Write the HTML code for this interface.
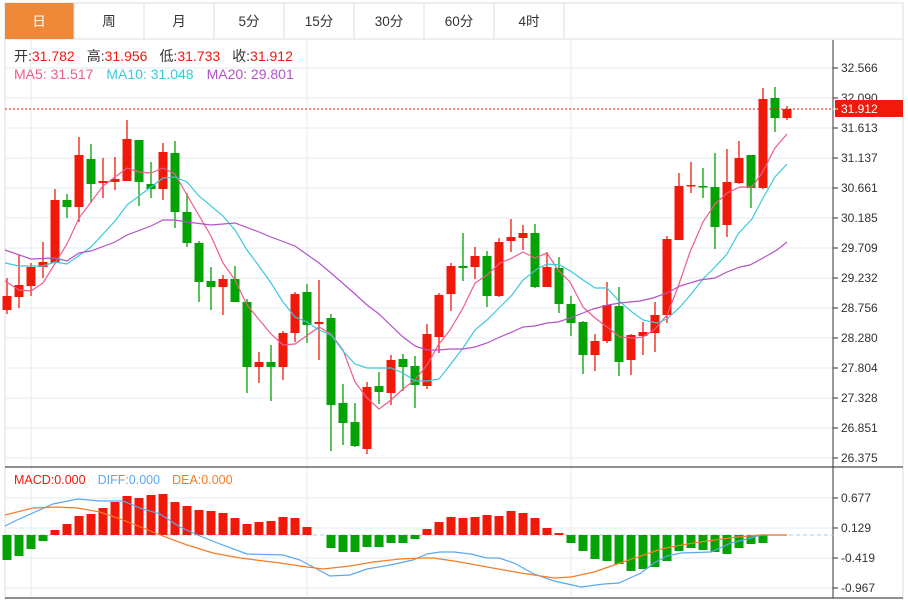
<!DOCTYPE html>
<html><head><meta charset="utf-8">
<style>
html,body{margin:0;padding:0;background:#fff;width:908px;height:600px;overflow:hidden}
body{font-family:"Liberation Sans","Noto Sans CJK SC",sans-serif}
svg{position:absolute;left:0;top:0}
</style></head>
<body>
<svg id="s" width="908" height="600" xmlns="http://www.w3.org/2000/svg" font-family="Liberation Sans, Noto Sans CJK SC, sans-serif">
<rect x="5" y="3" width="898" height="36" fill="#fff" stroke="#dcdcdc"/>
<rect x="5" y="3" width="69" height="36" fill="#f0883a"/>
<g stroke="#dcdcdc"><line x1="74" y1="3" x2="74" y2="39"/><line x1="144" y1="3" x2="144" y2="39"/><line x1="214" y1="3" x2="214" y2="39"/><line x1="284" y1="3" x2="284" y2="39"/><line x1="354" y1="3" x2="354" y2="39"/><line x1="424" y1="3" x2="424" y2="39"/><line x1="494" y1="3" x2="494" y2="39"/><line x1="564" y1="3" x2="564" y2="39"/></g>
<g font-size="13.5" text-anchor="middle" fill="#333"><text x="39" y="26" fill="#fff">日</text><text x="109" y="26">周</text><text x="179" y="26">月</text><text x="249" y="26">5分</text><text x="319" y="26">15分</text><text x="389" y="26">30分</text><text x="459" y="26">60分</text><text x="529" y="26">4时</text></g>
<line x1="5" y1="39" x2="5" y2="600" stroke="#dcdcdc"/>
<line x1="903" y1="39" x2="903" y2="600" stroke="#dcdcdc"/>
<g id="grid" stroke="#e3ebf1" stroke-width="1"></g>
<line x1="5" y1="467" x2="903" y2="467" stroke="#222"/>
<line x1="5" y1="598" x2="903" y2="598" stroke="#222"/>
<line x1="833" y1="40" x2="833" y2="598" stroke="#333"/>
<g id="ax" font-size="12" fill="#333"></g>
<g id="c"></g>
<g id="m"></g>
<line x1="5" y1="109" x2="833" y2="109" stroke="#f0190a" stroke-dasharray="2,2"/>
<rect x="835" y="100" width="68" height="17" fill="#f0190a"/>
<line x1="833" y1="109" x2="838" y2="109" stroke="#fff"/>
<text x="841" y="113" font-size="12" fill="#fff">31.912</text>
<g font-size="14">
<text x="14" y="61"><tspan fill="#333">开:</tspan><tspan fill="#f0190a">31.782</tspan><tspan fill="#333" dx="12">高:</tspan><tspan fill="#f0190a">31.956</tspan><tspan fill="#333" dx="12">低:</tspan><tspan fill="#f0190a">31.733</tspan><tspan fill="#333" dx="12">收:</tspan><tspan fill="#f0190a">31.912</tspan></text>
<text x="14" y="79"><tspan fill="#ef5b8a">MA5: 31.517</tspan><tspan fill="#3cc8dc" dx="13">MA10: 31.048</tspan><tspan fill="#b452c8" dx="13">MA20: 29.801</tspan></text>
</g>
<text x="14" y="484" font-size="12.5"><tspan fill="#f0190a">MACD:0.000</tspan><tspan fill="#5aa8f0" dx="12">DIFF:0.000</tspan><tspan fill="#f57d28" dx="12">DEA:0.000</tspan></text>
</svg>
<script>
var NS="http://www.w3.org/2000/svg";
function el(p,t,a){var e=document.createElementNS(NS,t);for(var k in a)e.setAttribute(k,a[k]);p.appendChild(e);return e;}
var g=document.getElementById('grid'),ax=document.getElementById('ax');
var labs=["32.566","32.090","31.613","31.137","30.661","30.185","29.709","29.232","28.756","28.280","27.804","27.328","26.851","26.375"];
labs.forEach(function(l,i){var y=68+30*i;el(g,'line',{x1:5,y1:y,x2:833,y2:y});el(ax,'line',{x1:833,y1:y,x2:838,y2:y,stroke:'#333'});var t=el(ax,'text',{x:841,y:y+4});t.textContent=l;});
[31,307,571].forEach(function(x){el(g,'line',{x1:x,y1:40,x2:x,y2:598});});
var ml=["0.677","0.129","-0.419","-0.967"];
ml.forEach(function(l,i){var y=498+30*i;el(g,'line',{x1:5,y1:y,x2:833,y2:y});el(ax,'line',{x1:833,y1:y,x2:838,y2:y,stroke:'#333'});var t=el(ax,'text',{x:841,y:y+4});t.textContent=l;});
var C=[[296,310,278,314,'r'],[285,297,255,308,'r'],[267,286,263,296,'r'],[262,267,242,278,'r'],[200,263,189,264,'r'],[200,207,194,218,'g'],[155,207,137,222,'r'],[159,184,144,203,'g'],[181,183,158,198,'r'],[179,182,157,190,'r'],[139,181,120,181,'r'],[140,182,140,206,'g'],[184,189,162,198,'g'],[152,189,143,200,'r'],[153,212,141,228,'g'],[212,243,193,247,'g'],[243,282,241,302,'g'],[281,287,267,310,'g'],[279,287,275,315,'r'],[279,302,266,302,'g'],[302,367,299,393,'g'],[362,367,352,383,'r'],[362,367,345,401,'g'],[333,367,331,380,'r'],[294,333,292,342,'r'],[292,325,284,343,'g'],[322,324,280,360,'r'],[318,405,314,451,'g'],[403,423,384,445,'g'],[422,446,403,447,'g'],[387,449,382,454,'r'],[386,392,372,404,'g'],[360,393,355,405,'r'],[359,367,354,391,'g'],[366,385,356,408,'g'],[334,386,324,389,'r'],[295,337,293,353,'r'],[266,294,263,311,'r'],[266,268,233,281,'g'],[256,267,247,279,'r'],[256,296,251,307,'g'],[242,296,238,297,'r'],[237,241,219,252,'r'],[233,238,225,250,'r'],[233,287,224,288,'g'],[267,287,252,287,'r'],[268,304,257,313,'g'],[304,323,296,336,'g'],[322,355,321,374,'g'],[341,355,334,371,'r'],[305,341,282,343,'r'],[306,362,287,376,'g'],[335,360,334,375,'r'],[332,336,322,355,'r'],[315,333,302,352,'r'],[239,315,236,323,'r'],[186,240,173,240,'r'],[185,186,162,193,'r'],[186,187,168,198,'g'],[187,227,153,249,'g'],[182,225,149,237,'r'],[158,183,141,184,'r'],[155,188,155,208,'g'],[99,188,88,189,'r'],[98,118,87,132,'g'],[109,118,106,120,'r']];
var cg=document.getElementById('c');
C.forEach(function(d,i){var x=7+12*i;var col=d[4]=='r'?'#f0190a':'#04a204';
el(cg,'line',{x1:x,y1:d[2],x2:x,y2:d[3],stroke:col,'stroke-width':1.3});
el(cg,'rect',{x:x-4.5,y:d[0],width:9,height:Math.max(1.5,d[1]-d[0]),fill:col});});
var M=[560,556,549,541,530,524,516,514,508,502,496,498,495,494,502,506,510,511,513,518,524,522,521,517,518,527,535,548,552,552,547,547,543,543,539,529,522,517,518,517,515,516,511,513,518,528,533,543,551,559,561,564,571,569,567,561,551,548,550,552,554,548,544,543,535,535];
el(cg,'line',{x1:5,y1:535,x2:833,y2:535,stroke:'#a9d3ee','stroke-dasharray':'4,3'});
M.forEach(function(v,i){var x=7+12*i;if(Math.abs(v-535)<1)return;var col=v<535?'#f0190a':'#04a204';
el(cg,'rect',{x:x-4.5,y:Math.min(v,535),width:9,height:Math.abs(v-535),fill:col});});
function pl(pts,col){el(document.getElementById('m'),'polyline',{points:pts,fill:'none',stroke:col,'stroke-width':1.2});}
pl("5,281 19,290 31,291 43,283 67,244 79,218 103,186 127,168 139,172 151,173 163,168 175,174 187,195 211,236 223,263 235,280 247,305 271,334 283,345 295,344 319,327 331,334 343,350 355,382 367,398 379,409 391,400 403,389 415,380 427,365 439,344 450,330 463,308 475,283 487,275 500,263 512,258 523,252 535,258 547,253 558,270 570,282 583,307 595,318 607,327 620,337 632,338 643,337 655,329 667,315 678,287 690,252 703,222 715,204 727,193 740,187 752,187 762,173 775,148 787,134","#ef5b8a");
pl("5,263 19,266 43,266 55,262 67,264 91,247 115,221 127,205 139,196 163,178 175,177 187,182 199,196 223,216 235,230 247,250 259,266 271,283 283,302 295,317 307,322 319,330 331,335 343,351 355,364 367,368 379,368 391,368 403,373 415,381 427,381 439,379 450,365 463,348 475,330 487,320 500,307 512,295 523,280 537,269 547,264 560,265 572,272 583,280 595,288 607,288 618,300 632,312 643,320 657,323 667,319 680,307 692,293 703,279 715,267 727,254 738,234 752,219 763,198 775,177 787,164","#3cc8dc");
pl("5,250 31,259 55,258 67,261 79,253 91,251 115,242 127,235 151,226 163,220 175,220 187,222 211,225 235,223 259,232 271,237 295,246 319,263 331,273 355,294 367,305 379,314 403,337 415,346 427,350 439,350 450,349 463,349 475,347 487,343 500,337 512,332 523,327 535,326 547,323 558,322 570,318 583,313 593,309 608,305 620,303 640,301 653,298 667,293 680,286 700,280 715,278 727,272 740,267 750,265 763,258 777,250 787,242","#b452c8");
pl("5,526 17,520 53,504 78,499 100,501 123,501 140,508 160,514 180,527 200,536 220,544 247,554 283,555 300,560 330,576 350,575 367,569 390,565 413,560 427,554 440,552 454,552 471,554 487,558 499,558 514,563 534,574 554,581 581,587 604,584 619,583 641,573 654,563 667,556 681,553 711,552 731,543 747,539 761,535 787,535","#5aa8f0");
pl("5,515 33,508 57,507 77,508 100,512 123,520 143,528 160,535 187,545 213,553 240,558 280,563 300,566 323,569 350,566 373,562 400,559 423,558 433,558 454,561 487,567 521,573 554,578 571,577 594,572 617,564 641,556 661,549 687,544 714,540 737,537 761,535 787,535","#f57d28");
</script>
</body></html>
